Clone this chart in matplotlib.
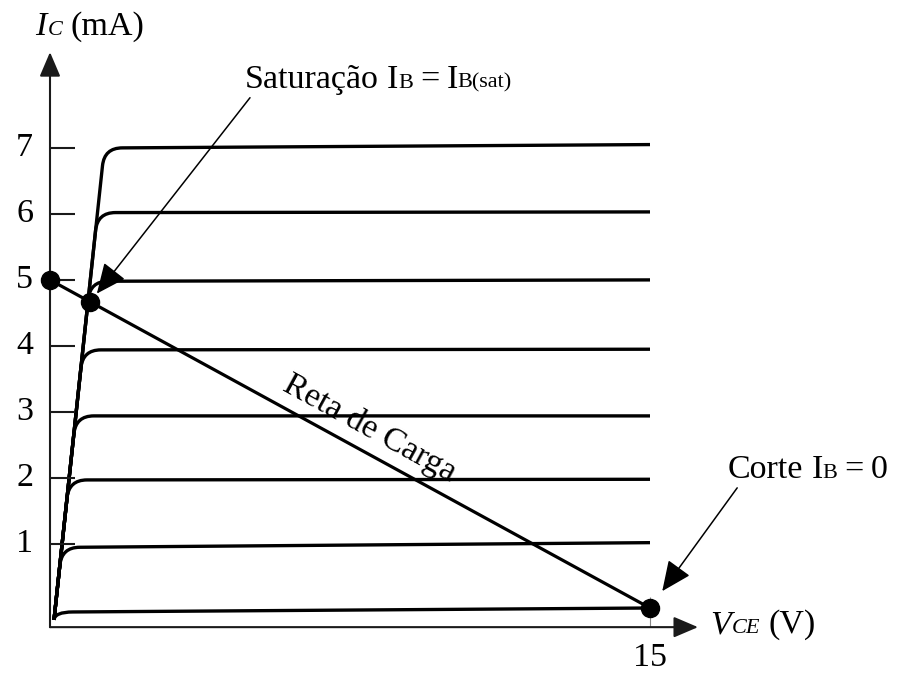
from __future__ import annotations

import matplotlib

matplotlib.use("Agg")
import matplotlib.pyplot as plt
import numpy as np
from matplotlib.patches import PathPatch
from matplotlib.path import Path

# --- values ------------------------------------------------------------------
vcc = 15.0                      # V, load line meets the V_CE axis
ic_sat = 5.0                    # mA, load line meets the I_C axis
ic_knee = [-0.03, 0.95, 1.97, 2.94, 3.94, 4.98, 6.02, 7.0]   # mA at the knee
ic_end = [0.03, 1.02, 1.98, 2.94, 3.95, 5.0, 6.03, 7.05]     # mA at 15 V
sat_edge_v = [0.1, 1.36]        # V, steep saturation edge (bottom, top)
sat_edge_i = [-0.15, 7.0]       # mA
sat_point = (1.0, 4.66)         # V, mA
cut_point = (15.0, 0.03)        # V, mA
ic_ticks = [1, 2, 3, 4, 5, 6, 7]
ic_tick_labels = ["1", "2", "3", "4", "5", "6", "7"]
vce_ticks = [15]
vce_tick_labels = ["15"]

FONT = "Liberation Serif"
BIG = 24.5
SMALL = 16

plt.rcParams["font.family"] = FONT


def draw_pieces(ax, renderer, xy, pieces):
    """Write (text, size, style, gap) pieces left to right from a baseline point."""
    dx = 0.0
    for text, size, style, gap in pieces:
        t = ax.annotate(text, xy=xy, xytext=(dx, 0), textcoords="offset pixels",
                        fontsize=size, fontstyle=style, ha="left", va="baseline")
        dx += t.get_window_extent(renderer).width + gap


def curve_path(level, level_end, r_v=0.45, r_i=0.27):
    """Characteristic: up the saturation edge, rounded knee, then flat to Vcc."""
    v_knee = np.interp(level, sat_edge_i, sat_edge_v)
    i_low = max(level - r_i, sat_edge_i[0])
    v_low = np.interp(i_low, sat_edge_i, sat_edge_v)
    verts = [(sat_edge_v[0], sat_edge_i[0]), (v_low, i_low),
             (v_knee, level), (v_knee + r_v, level), (vcc, level_end)]
    codes = [Path.MOVETO, Path.LINETO, Path.CURVE3, Path.CURVE3, Path.LINETO]
    return Path(verts, codes)


fig = plt.figure(figsize=(9, 6.76), dpi=100)
ax = fig.add_axes([0, 0, 1, 1])
ax.set_xlim(-1.25, 21.25)
ax.set_ylim(-1.0, 9.24)
ax.axis("off")
renderer = fig.canvas.get_renderer()

axis_y = -0.26
axis_kw = dict(arrowstyle="-|>,head_length=0.75,head_width=0.32", color="#1a1a1a",
               lw=1.5, shrinkA=0, shrinkB=0, mutation_scale=20)
ax.annotate("", xy=(0, 8.45), xytext=(0, axis_y), arrowprops=axis_kw)
ax.annotate("", xy=(16.2, axis_y), xytext=(0, axis_y), arrowprops=axis_kw)

ax.hlines(ic_ticks, 0, 0.62, color="#1a1a1a", lw=1.5)
ax.vlines(vce_ticks, axis_y, 0.2, color="#888888", lw=0.8)
for tick, label in zip(ic_ticks, ic_tick_labels):
    ax.text(-0.42, tick, label, fontsize=BIG, ha="right", va="center")
for tick, label in zip(vce_ticks, vce_tick_labels):
    ax.text(tick, -0.5, label, fontsize=BIG, ha="center", va="top")

for level, level_end in zip(ic_knee, ic_end):
    ax.add_patch(PathPatch(curve_path(level, level_end), fill=False, lw=2.4,
                           edgecolor="black", joinstyle="round", capstyle="butt"))

ax.plot([0, cut_point[0]], [ic_sat, cut_point[1]], color="black", lw=2.3)
ax.plot([0, sat_point[0], cut_point[0]], [ic_sat, sat_point[1], cut_point[1]],
        "o", color="black", markersize=13, zorder=5)

load_angle = np.degrees(np.arctan2(cut_point[1] - ic_sat, cut_point[0]))
ax.text(8.0, 2.75, "Reta de Carga", fontsize=BIG, ha="center", va="center",
        rotation=load_angle, rotation_mode="anchor", transform_rotates_text=True)

note_kw = dict(arrowstyle="-|>,head_length=0.85,head_width=0.38", color="black",
               lw=1.1, shrinkA=0, mutation_scale=22)
ax.annotate("", xy=sat_point, xytext=(5.0, 7.76),
            arrowprops=dict(note_kw, shrinkB=8))
ax.annotate("", xy=cut_point, xytext=(17.18, 1.85),
            arrowprops=dict(note_kw, shrinkB=15))

draw_pieces(ax, renderer, (4.875, 7.91), [
    ("Saturação", BIG, "normal", 8), ("I", BIG, "normal", 0),
    ("B", SMALL, "normal", 7), ("=", BIG, "normal", 7),
    ("I", BIG, "normal", 0), ("B(sat)", SMALL, "normal", 0)])
draw_pieces(ax, renderer, (16.95, 2.0), [
    ("Corte", BIG, "normal", 8), ("I", BIG, "normal", 0),
    ("B", SMALL, "normal", 7), ("=", BIG, "normal", 7), ("0", BIG, "normal", 0)])
draw_pieces(ax, renderer, (-0.375, 8.71), [
    ("I", BIG, "italic", 1), ("C", SMALL, "italic", 8), ("(mA)", BIG, "normal", 0)])
draw_pieces(ax, renderer, (16.5, -0.35), [
    ("V", BIG, "italic", 1), ("CE", SMALL, "italic", 8), ("(V)", BIG, "normal", 0)])

fig.savefig("out.png", dpi=100)
